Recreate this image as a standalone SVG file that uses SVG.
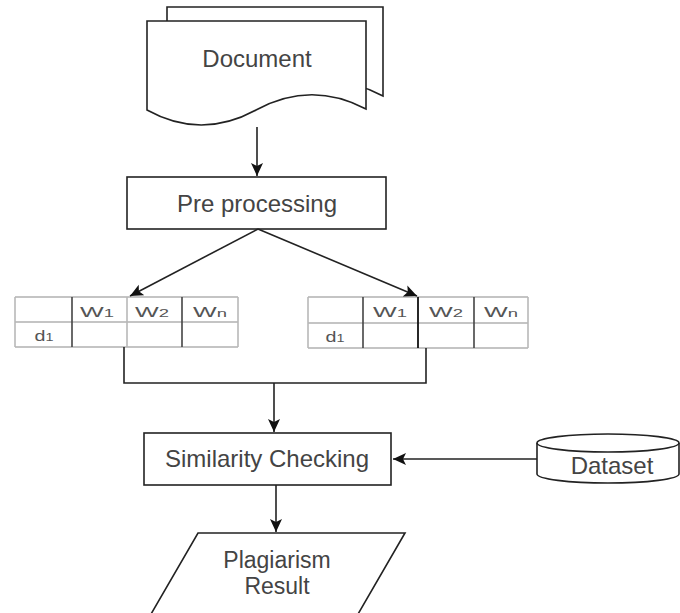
<svg xmlns="http://www.w3.org/2000/svg" width="680" height="613" viewBox="0 0 680 613">
<style>
.s{fill:#fff;stroke:#222;stroke-width:1.6}
.t{font-family:"Liberation Sans",Arial,sans-serif;font-size:24px;fill:#444;text-anchor:middle}
.c{font-family:"Liberation Sans",Arial,sans-serif;font-size:15px;fill:#555;text-anchor:middle}
.ln{fill:none;stroke:#222;stroke-width:1.6}
.hl{stroke:#b0b0b0;stroke-width:1.6}
.vd{stroke:#444;stroke-width:1.6}
.vl{stroke:#b8b8b8;stroke-width:1.6}
</style>
<defs>
<marker id="ah" markerUnits="userSpaceOnUse" markerWidth="14" markerHeight="14" viewBox="0 0 14 14" refX="13" refY="7" orient="auto">
<path d="M0,1 L13,7 L0,13 L3,7 Z" fill="#111"/>
</marker>
</defs>
<rect width="680" height="613" fill="#fff"/>

<g id="document">
<path class="s" d="M167,21 V7 H383 V96 Q329,67 275,96 Q221,125 167,96 Z"/>
<path class="s" d="M147,21 H366 V109 Q311,80 256,110 Q201,140 147,110 Z"/>
<text class="t" x="257" y="67">Document</text>
</g>

<g id="preprocessing">
<rect class="s" x="127" y="177" width="259" height="52"/>
<text class="t" x="257" y="212">Pre processing</text>
</g>

<g id="table-left">
<rect x="15" y="297" width="223" height="50" fill="#fff"/>
<line class="hl" x1="15" y1="297" x2="238" y2="297"/>
<line class="hl" x1="15" y1="322" x2="238" y2="322"/>
<line class="hl" x1="15" y1="347" x2="238" y2="347"/>
<line class="vl" x1="15" y1="297" x2="15" y2="347"/>
<line class="vd" x1="72" y1="297" x2="72" y2="347"/>
<line class="vl" x1="127" y1="297" x2="127" y2="347"/>
<line class="vd" x1="182" y1="297" x2="182" y2="347"/>
<line class="vl" x1="238" y1="297" x2="238" y2="347"/>
<text class="c" x="97" y="317" textLength="34" lengthAdjust="spacingAndGlyphs">W<tspan font-size="11">1</tspan></text>
<text class="c" x="152" y="317" textLength="34" lengthAdjust="spacingAndGlyphs">W<tspan font-size="11">2</tspan></text>
<text class="c" x="210" y="317" textLength="34" lengthAdjust="spacingAndGlyphs">W<tspan font-size="11">n</tspan></text>
<text class="c" x="44" y="341" textLength="19" lengthAdjust="spacingAndGlyphs">d<tspan font-size="11">1</tspan></text>
</g>

<g id="table-right">
<rect x="308" y="297" width="220" height="51" fill="#fff"/>
<line class="hl" x1="308" y1="297" x2="528" y2="297"/>
<line class="hl" x1="308" y1="323" x2="528" y2="323"/>
<line class="hl" x1="308" y1="348" x2="528" y2="348"/>
<line class="vl" x1="308" y1="297" x2="308" y2="348"/>
<line class="vd" x1="363" y1="297" x2="363" y2="348"/>
<line stroke="#111" stroke-width="1.8" x1="418" y1="297" x2="418" y2="348"/>
<line class="vd" x1="474" y1="297" x2="474" y2="348"/>
<line class="vl" x1="528" y1="297" x2="528" y2="348"/>
<text class="c" x="390" y="317" textLength="34" lengthAdjust="spacingAndGlyphs">W<tspan font-size="11">1</tspan></text>
<text class="c" x="446" y="317" textLength="34" lengthAdjust="spacingAndGlyphs">W<tspan font-size="11">2</tspan></text>
<text class="c" x="501" y="317" textLength="34" lengthAdjust="spacingAndGlyphs">W<tspan font-size="11">n</tspan></text>
<text class="c" x="335" y="342" textLength="19" lengthAdjust="spacingAndGlyphs">d<tspan font-size="11">1</tspan></text>
</g>

<g id="similarity">
<rect class="s" x="144" y="433" width="247" height="52"/>
<text class="t" x="267" y="467">Similarity Checking</text>
</g>

<g id="dataset">
<path class="s" d="M537,443 A71,9 0 0 1 679,443 V474 A71,9 0 0 1 537,474 Z"/>
<path class="ln" d="M537,443 A71,9 0 0 0 679,443"/>
<text class="t" x="612" y="474">Dataset</text>
</g>

<g id="result">
<polygon class="s" points="198,533 405,533 343,640 136,640"/>
<text class="t" x="277" y="568" style="font-size:23px">Plagiarism</text>
<text class="t" x="277" y="594" style="font-size:23px">Result</text>
</g>

<g id="connectors">
<line class="ln" x1="257" y1="127" x2="257" y2="176" marker-end="url(#ah)"/>
<line class="ln" x1="258" y1="229" x2="130" y2="296" marker-end="url(#ah)"/>
<line class="ln" x1="258" y1="229" x2="417" y2="296" marker-end="url(#ah)"/>
<polyline class="ln" points="124,347 124,383 426,383 426,348"/>
<line class="ln" x1="274" y1="383" x2="274" y2="432" marker-end="url(#ah)"/>
<line class="ln" x1="537" y1="459" x2="393" y2="459" marker-end="url(#ah)"/>
<line class="ln" x1="276" y1="485" x2="276" y2="532" marker-end="url(#ah)"/>
</g>
</svg>
